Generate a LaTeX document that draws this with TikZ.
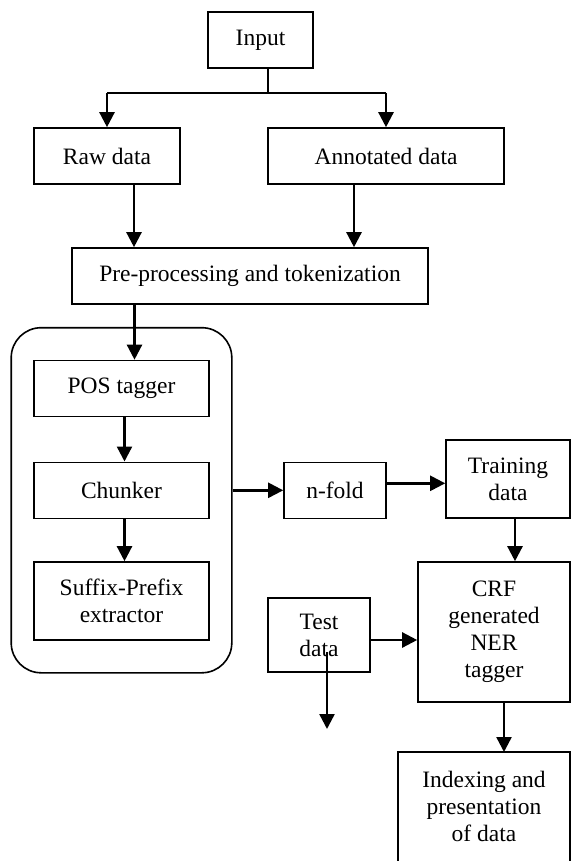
\documentclass[tikz,border=0pt]{standalone}
\usepackage{fontspec}
\setmainfont{Liberation Serif}
\usetikzlibrary{arrows.meta,calc,fit}

\begin{document}
\begin{tikzpicture}[x=1pt,y=-1pt,
    box/.style={draw,line width=1.6pt,align=center,inner sep=0pt,
                font=\fontsize{23.5}{27}\selectfont},
    frame/.style={draw,line width=1.6pt},
    link/.style={line width=2pt},
    flow/.style={line width=2.4pt,-{Triangle[length=15pt,width=15pt]}}]
  \useasboundingbox (0,0) rectangle (571,861);
  \clip (0,0) rectangle (571,861);
  \node[box,minimum width=105pt,minimum height=56pt] (input) at (260.5,40) {Input};
  \node[box,minimum width=146pt,minimum height=56pt] (raw) at (107,156) {Raw data};
  \node[box,minimum width=236pt,minimum height=56pt] (annot) at (386,156) {Annotated data};
  \node[box,minimum width=356pt,minimum height=56pt] (prep) at (250,276)
    {Pre-processing and tokenization};
  \node[box,minimum width=175pt,minimum height=56pt] (pos) at (121.5,388.5) {POS tagger};
  \node[box,minimum width=175pt,minimum height=56pt] (chunk) at (121.5,490.3) {Chunker};
  \node[box,minimum width=175pt,minimum height=78pt] (suffix) at (121.5,601)
    {Suffix-Prefix\\extractor};
  \node[frame,rounded corners=30pt,inner xsep=22pt,inner ysep=32pt,
        fit=(pos)(suffix)] (feat) {};
  \node[box,minimum width=102pt,minimum height=56pt] (nfold) at (335,490.3) {n-fold};
  \node[box,minimum width=124pt,minimum height=78pt] (train) at (508,479) {Training\\data};
  \node[box,minimum width=152pt,minimum height=140pt] (crf) at (494,632)
    {CRF\\generated\\NER\\tagger};
  \node[box,minimum width=102pt,minimum height=74pt] (test) at (319,635) {Test\\data};
  \node[box,draw=none] (index) at (484,806) {Indexing and\\presentation\\of data};
  \draw[frame] (398,752) rectangle (570,885);
  \coordinate (indextop) at (484,752);
  \coordinate (split) at ($([xshift=7.5pt]input.south)+(0,24)$);
  \coordinate (testout) at (327,729);

  \draw[link] ([xshift=7.5pt]input.south) -- (split);
  \draw[link] (split -| raw) -- (split -| annot);
  \draw[flow] (split -| raw) -- (raw);
  \draw[flow] (split -| annot) -- (annot);
  \draw[flow] ([xshift=27pt]raw.south) -- ([xshift=27pt]raw.south |- prep.north);
  \draw[flow] ([xshift=-32pt]annot.south) -- ([xshift=-32pt]annot.south |- prep.north);
  \draw[flow] ([xshift=13pt]pos.north |- prep.south) -- ([xshift=13pt]pos.north);
  \draw[flow] ([xshift=3pt]pos.south) -- ([xshift=3pt]chunk.north);
  \draw[flow] ([xshift=3pt]chunk.south) -- ([xshift=3pt]suffix.north);
  \draw[flow] (feat.east |- nfold) -- (nfold);
  \draw[flow] ([yshift=7pt]nfold.east) -- ([yshift=7pt]nfold.east -| train.west);
  \draw[flow] ([xshift=7pt]train.south) -- ([xshift=7pt]train.south |- crf.north);
  \draw[flow] ([yshift=-5pt]test.east) -- ([yshift=-5pt]test.east -| crf.west);
  \draw[flow] (testout |- 0,652) -- (testout);
  \draw[flow] ([xshift=10pt]crf.south) -- ([xshift=10pt]crf.south |- indextop);
\end{tikzpicture}
\end{document}
